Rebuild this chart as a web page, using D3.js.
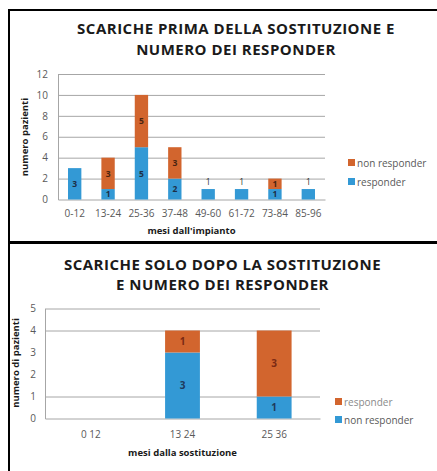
<!DOCTYPE html>
<html>
<head>
<meta charset="utf-8">
<script src="https://cdn.jsdelivr.net/npm/d3@7"></script>
<style>
  html, body { margin: 0; padding: 0; background: #fff; }
  svg { display: block; font-family: "Open Sans", "DejaVu Sans", sans-serif; }
</style>
</head>
<body>
<svg id="chart" width="437" height="471"></svg>
<script>
// ---- Data: chart 1 ----
const cat1 = ["0-12", "13-24", "25-36", "37-48", "49-60", "61-72", "73-84", "85-96"];
const responder1 = [3, 1, 5, 2, 1, 1, 1, 1];
const nonResponder1 = [0, 3, 5, 3, 0, 0, 1, 0];
const yTicks1 = [0, 2, 4, 6, 8, 10, 12];

// ---- Data: chart 2 ----
const cat2 = ["0 12", "13 24", "25 36"];
const nonResponder2 = [0, 3, 1];
const responder2 = [0, 1, 3];
const yTicks2 = [0, 1, 2, 3, 4, 5];
const yGrid2 = [1, 4, 5];

const ORANGE = "#D2652E";
const BLUE = "#3399D5";
const GRID = "#A6A6A6";
const TXT = "#595959";

const svg = d3.select("#chart");

// ---- frames ----
svg.append("line").attr("x1", 8).attr("x2", 437).attr("y1", 10).attr("y2", 10)
  .attr("stroke", "#000").attr("stroke-width", 2);
svg.append("line").attr("x1", 9).attr("x2", 9).attr("y1", 9).attr("y2", 471)
  .attr("stroke", "#000").attr("stroke-width", 2);
svg.append("line").attr("x1", 8).attr("x2", 437).attr("y1", 242.5).attr("y2", 242.5)
  .attr("stroke", "#000").attr("stroke-width", 3);

function drawChart(opt) {
  const g = svg.append("g");
  const x = d3.scaleBand().domain(opt.cats).range([opt.left, opt.right]).paddingInner(opt.pad).paddingOuter(opt.pad / 2);
  const y = d3.scaleLinear().domain([0, opt.ymax]).range([opt.bottom, opt.top]);

  // titles
  opt.title.forEach((t, i) => {
    g.append("text").attr("x", opt.titleX).attr("y", opt.titleY + i * opt.titleGap)
      .attr("text-anchor", "middle").attr("font-size", opt.titleSize).attr("font-weight", "bold")
      .attr("letter-spacing", 0.5)
      .attr("fill", "#1a1a1a").text(t);
  });

  // grid
  const grid = g.append("g").attr("transform", `translate(${opt.left},0)`)
    .call(d3.axisLeft(y).tickValues(opt.grid).tickSize(-(opt.right - opt.left)).tickFormat(""));
  grid.select(".domain").remove();
  grid.selectAll("line").attr("stroke", GRID).attr("stroke-width", 1);

  // y axis labels
  const ya = g.append("g").attr("transform", `translate(${opt.left},0)`)
    .call(d3.axisLeft(y).tickValues(opt.yTicks).tickFormat(d3.format("d")).tickSize(0).tickPadding(opt.yPad));
  ya.select(".domain").attr("stroke", GRID);
  ya.selectAll("text").attr("font-size", 10).attr("fill", TXT).attr("font-family", "Open Sans, sans-serif");

  // x axis
  const xa = g.append("g").attr("transform", `translate(0,${opt.bottom})`)
    .call(d3.axisBottom(x).tickSize(0).tickPadding(opt.xPad));
  xa.select(".domain").attr("stroke", GRID);
  xa.selectAll("text").attr("font-size", 10).attr("fill", TXT).attr("font-family", "Open Sans, sans-serif");

  // bars
  const data = opt.cats.map((c, i) => ({ c, a: opt.s1[i], b: opt.s2[i] }));
  g.selectAll(".b1").data(data).join("rect")
    .attr("x", d => x(d.c)).attr("width", x.bandwidth())
    .attr("y", d => y(d.a)).attr("height", d => y(0) - y(d.a)).attr("fill", opt.c1);
  g.selectAll(".b2").data(data).join("rect")
    .attr("x", d => x(d.c)).attr("width", x.bandwidth())
    .attr("y", d => y(d.a + d.b)).attr("height", d => y(d.a) - y(d.a + d.b)).attr("fill", opt.c2);

  // labels
  data.forEach(d => {
    const cx = x(d.c) + x.bandwidth() / 2;
    if (d.a > 0) {
      const above = (d.a + d.b) === 1 && opt.aboveSingle;
      g.append("text").attr("x", cx)
        .attr("y", above ? y(d.a) - 4 : y(d.a / 2) + 3.2)
        .attr("text-anchor", "middle").attr("font-size", opt.labSize)
        .attr("font-weight", above ? "normal" : "bold")
        .attr("fill", above ? "#333" : opt.l1).text(d.a);
    }
    if (d.b > 0) {
      g.append("text").attr("x", cx).attr("y", y(d.a + d.b / 2) + 3.2)
        .attr("text-anchor", "middle").attr("font-size", opt.labSize).attr("font-weight", "bold")
        .attr("fill", opt.l2).text(d.b);
    }
  });

  // axis titles
  g.append("text").attr("x", (opt.left + opt.right) / 2).attr("y", opt.xTitleY)
    .attr("text-anchor", "middle").attr("font-size", 9.5).attr("font-weight", "bold")
    .attr("fill", "#1a1a1a").text(opt.xTitle);
  g.append("text").attr("transform", `translate(${opt.yTitleX},${opt.yTitleY}) rotate(-90)`)
    .attr("text-anchor", "middle").attr("font-size", 9.5).attr("font-weight", "bold")
    .attr("fill", "#1a1a1a").text(opt.yTitle);

  // legend
  opt.legend.forEach((L, i) => {
    const ly = opt.legY + i * opt.legGap;
    g.append("rect").attr("x", opt.legX).attr("y", ly - 4).attr("width", 7).attr("height", 7).attr("fill", L.color);
    g.append("text").attr("x", opt.legX + 9).attr("y", ly + 3.5).attr("font-size", 10)
      .attr("fill", L.tc || TXT).text(L.name);
  });
}

drawChart({
  cats: cat1, s1: responder1, s2: nonResponder1, c1: BLUE, c2: ORANGE,
  l1: "#1d2e45", l2: "#4a2410", labSize: 8.5,
  ymax: 12, yTicks: yTicks1, grid: yTicks1.slice(1),
  left: 58, right: 325, top: 74, bottom: 199.5, pad: 0.6, yPad: 10, xPad: 10,
  title: ["SCARICHE PRIMA DELLA SOSTITUZIONE E", "NUMERO DEI RESPONDER"],
  titleX: 236, titleY: 34, titleGap: 21, titleSize: 15,
  xTitle: "mesi dall'impianto", xTitleY: 233.5,
  yTitle: "numero pazienti", yTitleX: 28, yTitleY: 137,
  aboveSingle: true,
  legend: [{ name: "non responder", color: ORANGE }, { name: "responder", color: BLUE }],
  legX: 348, legY: 163, legGap: 19
});

drawChart({
  cats: cat2, s1: nonResponder2, s2: responder2, c1: BLUE, c2: ORANGE,
  l1: "#1f3a5c", l2: "#7a2a14", labSize: 10,
  ymax: 5, yTicks: yTicks2, grid: yGrid2,
  left: 45, right: 320, top: 308.5, bottom: 418.5, pad: 0.62, yPad: 9, xPad: 12,
  title: ["SCARICHE SOLO DOPO LA SOSTITUZIONE", "E NUMERO DEI RESPONDER"],
  titleX: 222.5, titleY: 270, titleGap: 20, titleSize: 15,
  xTitle: "mesi dalla sostituzione", xTitleY: 456,
  yTitle: "numero di pazienti", yTitleX: 19, yTitleY: 363,
  aboveSingle: false,
  legend: [{ name: "responder", color: ORANGE, tc: "#8a8a8a" }, { name: "non responder", color: BLUE }],
  legX: 335, legY: 402, legGap: 18
});
</script>
</body>
</html>
